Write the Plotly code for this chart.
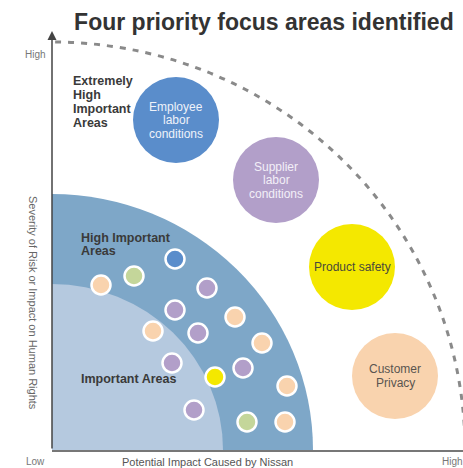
import plotly.graph_objects as go

# small issue bubbles: impact (x), severity (y), colour
small_x = [123, 82, 49, 155, 123, 183, 101, 146, 210, 120, 191, 163, 235, 142, 195, 233]
small_y = [191, 174, 165, 162, 140, 133, 119, 117, 107, 87, 82, 73, 64, 40, 28, 28]
small_c = ['blue', 'green', 'peach', 'purple', 'purple', 'peach', 'peach', 'purple',
           'peach', 'purple', 'purple', 'yellow', 'peach', 'purple', 'green', 'peach']

# the four priority focus areas
focus_names = [['Employee', 'labor', 'conditions'], ['Supplier', 'labor', 'conditions'],
               ['Product safety'], ['Customer', 'Privacy']]
focus_x = [124, 224, 300, 343]
focus_y = [330, 270, 183, 74]
focus_c = ['blue', 'purple', 'yellow', 'peach']
focus_text_c = ['#eef2fa', '#f3eff8', '#4a4a3a', '#5a5550']

# zone labels, one entry per line
zone_lines = ['Extremely', 'High', 'Important', 'Areas',
              'High Important', 'Areas',
              'Important Areas']
zone_line_x = [19, 19, 19, 19, 27, 27, 27]
zone_line_y = [369, 355, 341, 327, 212, 199, 71]

# zone radii (impact, severity)
zone_dark = (261, 256)
zone_light = (171, 166)
zone_limit = (413, 408)

X_MAX, Y_MAX = 411, 450

palette = {'blue': '#5a8dcb', 'purple': '#b29fc9', 'yellow': '#f4e800',
           'peach': '#f9d3ae', 'green': '#c4d69a'}

FONT = 'Liberation Sans, Arial, sans-serif'

fig = go.Figure()

# zones
fig.add_shape(type='circle', xref='x', yref='y', x0=-zone_dark[0], x1=zone_dark[0],
              y0=-zone_dark[1], y1=zone_dark[1], fillcolor='#7ea7c8', line_width=0, layer='below')
fig.add_shape(type='circle', xref='x', yref='y', x0=-zone_light[0], x1=zone_light[0],
              y0=-zone_light[1], y1=zone_light[1], fillcolor='#b5c9df', line_width=0, layer='below')
fig.add_shape(type='circle', xref='x', yref='y', x0=-zone_limit[0], x1=zone_limit[0],
              y0=-zone_limit[1], y1=zone_limit[1],
              line=dict(color='#8a8a8a', width=3, dash='6px,7px'), layer='below')

fig.add_trace(go.Scatter(
    x=small_x, y=small_y, mode='markers', hoverinfo='skip',
    marker=dict(size=19, color=[palette[c] for c in small_c], line=dict(color='white', width=2.5))))

fig.add_trace(go.Scatter(
    x=focus_x, y=focus_y, mode='markers', hoverinfo='skip',
    marker=dict(size=86, color=[palette[c] for c in focus_c], line=dict(width=0))))

# bubble captions, tighter line spacing than plotly's default
for lines, fx, fy, tc in zip(focus_names, focus_x, focus_y, focus_text_c):
    n = len(lines)
    for k, line in enumerate(lines):
        fig.add_annotation(x=fx, y=fy + 13.5 * ((n - 1) / 2 - k), text=line, showarrow=False,
                           xanchor='center', yanchor='middle',
                           font=dict(family=FONT, size=12, color=tc))

for txt, lx, ly in zip(zone_lines, zone_line_x, zone_line_y):
    fig.add_annotation(x=lx, y=ly, text='<b>' + txt + '</b>', showarrow=False, xref='x', yref='y',
                       xanchor='left', yanchor='middle', align='left',
                       font=dict(family=FONT, size=12.5, color='#3a3a3a'))

# y axis arrow
fig.add_annotation(x=0, y=419, ax=0, ay=0, axref='x', ayref='y', xref='x', yref='y', text='',
                   showarrow=True, arrowhead=2, arrowsize=1.2, arrowwidth=1.5, arrowcolor='#444')


def outside_label(x, y, text, font, xanchor='center', **kw):
    # labels outside the plot area are placed in paper units
    fig.add_annotation(x=x / X_MAX, y=y / Y_MAX, xref='paper', yref='paper', text=text,
                       showarrow=False, font=font, xanchor=xanchor, yanchor='middle', **kw)


axis_font = dict(family=FONT, size=10, color='#777')
outside_label(-4, 396, 'High', axis_font, xanchor='right')
outside_label(-17, -11, 'Low', axis_font)
outside_label(388, -11, 'High', axis_font, xanchor='left')
outside_label(155, -12, 'Potential Impact Caused by Nissan', dict(family=FONT, size=11, color='#555'))
outside_label(-19, 147, 'Severity of Risk or Impact on Human Rights',
              dict(family=FONT, size=11, color='#666'), textangle=90)

fig.update_layout(
    width=463, height=468,
    margin=dict(l=52, r=0, t=0, b=18),
    paper_bgcolor='white', plot_bgcolor='white',
    showlegend=False,
    title=dict(text='<b>Four priority focus areas identified</b>', x=0.57, y=0.953,
               xanchor='center', yanchor='middle',
               font=dict(family=FONT, size=23, color='#333')),
    xaxis=dict(range=[0, X_MAX], showgrid=False, zeroline=False, showticklabels=False,
               showline=True, linewidth=2, linecolor='#777', fixedrange=True),
    yaxis=dict(range=[0, Y_MAX], showgrid=False, zeroline=False, showticklabels=False,
               fixedrange=True),
)

fig.write_html('out.html', config={'displayModeBar': False},
               post_script="document.body.style.margin='0';")
